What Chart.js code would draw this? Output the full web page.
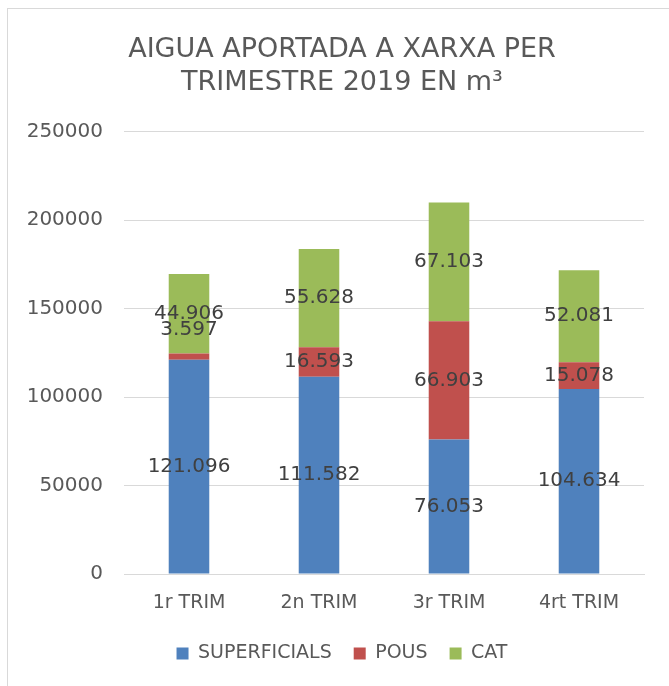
<!DOCTYPE html>
<html>
<head>
<meta charset="utf-8">
<script src="https://cdn.jsdelivr.net/npm/chart.js@4"></script>
<style>
  html, body { margin: 0; padding: 0; background: #fff; }
  #wrap { position: relative; width: 669px; height: 686px; overflow: hidden; }
  #frame { position: absolute; left: 7px; top: 8px; width: 700px; height: 700px; border: 1px solid #d9d9d9; }
  canvas { position: absolute; left: 0; top: 0; }
</style>
</head>
<body>
<div id="wrap">
  <div id="frame"></div>
  <canvas id="chart" width="669" height="686"></canvas>
</div>
<script>
const trimestres = ["1r TRIM", "2n TRIM", "3r TRIM", "4rt TRIM"];
const superficials = [121096, 111582, 76053, 104634];
const pous = [3597, 16593, 66903, 15078];
const cat = [44906, 55628, 67103, 52081];
const yMax = 250000;
const yStep = 50000;

const FONT = "'DejaVu Sans', sans-serif";

// thousands with a dot, like the original sheet
const fmt = (v) => String(v).replace(/\B(?=(\d{3})+(?!\d))/g, ".");

const labelsPlugin = {
  id: "segmentLabels",
  afterDatasetsDraw: (chart) => {
    const { ctx } = chart;
    ctx.save();
    ctx.font = "20px " + FONT;
    ctx.fillStyle = "#404040";
    ctx.textAlign = "center";
    ctx.textBaseline = "middle";
    chart.data.datasets.forEach((ds, i) => {
      const meta = chart.getDatasetMeta(i);
      meta.data.forEach((bar, j) => {
        let y = (bar.y + bar.base) / 2;
        // very thin segment: label sits a bit above it
        if (Math.abs(bar.base - bar.y) < 12) y -= 27;
        ctx.fillText(fmt(ds.data[j]), bar.x, y);
      });
    });
    ctx.restore();
  },
};

// title and legend are centred a little right of the canvas middle
const shiftBoxes = {
  id: "shiftBoxes",
  afterLayout: (chart) => {
    [chart.titleBlock, chart.legend].forEach((b) => {
      if (b) { b.left += 20; b.right += 20; }
    });
  },
};

new Chart(document.getElementById("chart"), {
  type: "bar",
  data: {
    labels: trimestres,
    datasets: [
      { label: "SUPERFICIALS", data: superficials, backgroundColor: "#4F81BD" },
      { label: "POUS", data: pous, backgroundColor: "#C0504D" },
      { label: "CAT", data: cat, backgroundColor: "#9BBB59" },
    ],
  },
  options: {
    responsive: false,
    devicePixelRatio: 1,
    animation: false,
    categoryPercentage: 1,
    barPercentage: 0.312,
    layout: { padding: { left: 0, right: 25, top: 0, bottom: 13 } },
    plugins: {
      title: {
        display: true,
        text: ["AIGUA APORTADA A XARXA PER", "TRIMESTRE 2019 EN m\u00B3"],
        color: "#595959",
        font: { family: FONT, size: 27, weight: "normal", lineHeight: 1.2 },
        padding: { top: 34, bottom: 33 },
      },
      legend: {
        position: "bottom",
        labels: {
          color: "#595959",
          font: { family: FONT, size: 19 },
          boxWidth: 12,
          boxHeight: 12,
          padding: 22,
        },
      },
      tooltip: { enabled: false },
    },
    scales: {
      x: {
        stacked: true,
        grid: { display: false, drawTicks: false },
        border: { color: "#d9d9d9", width: 1 },
        ticks: { color: "#595959", font: { family: FONT, size: 19 }, padding: 18 },
        afterFit: (scale) => { scale.height = 48; },
      },
      y: {
        stacked: true,
        min: 0,
        max: yMax,
        border: { display: false },
        grid: { color: "#d9d9d9", drawTicks: false },
        ticks: {
          stepSize: yStep,
          color: "#595959",
          font: { family: FONT, size: 20 },
          padding: 21,
          callback: (v) => String(v),
        },
        afterFit: (scale) => { scale.width = 124; },
      },
    },
  },
  plugins: [labelsPlugin, shiftBoxes],
});
</script>
</body>
</html>
